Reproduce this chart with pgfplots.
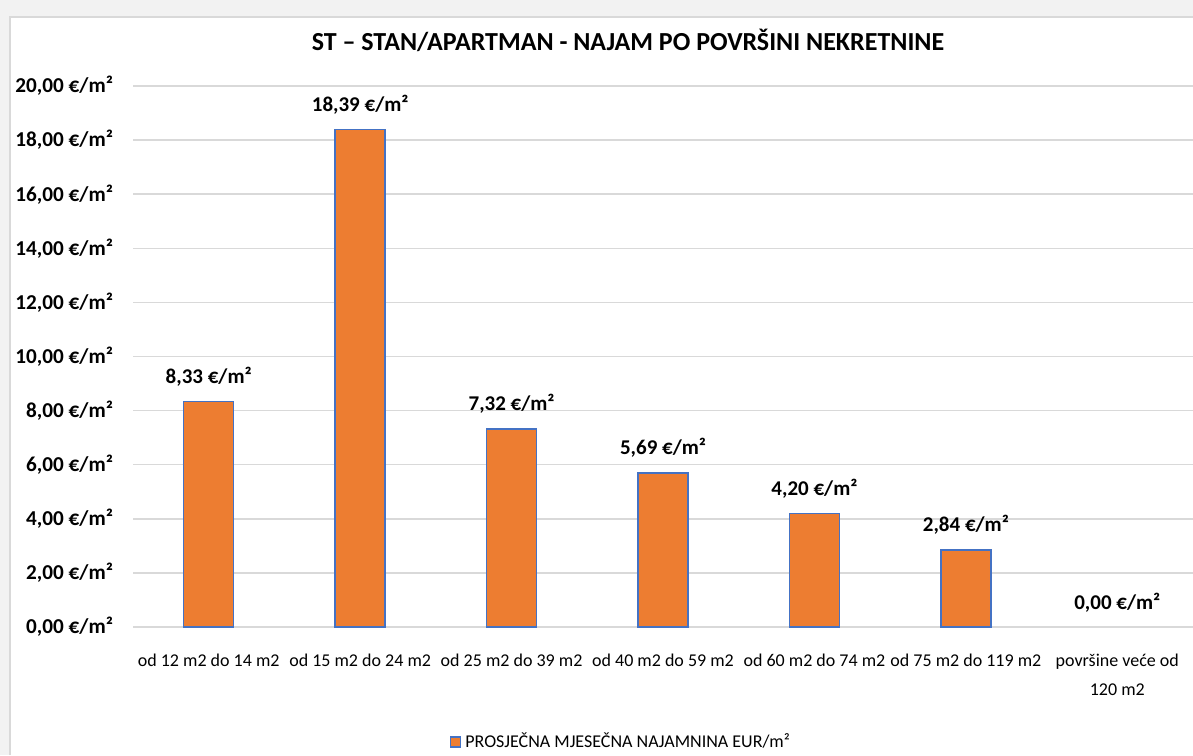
\documentclass[border=0pt]{standalone}
\usepackage{fontspec}
\setmainfont{Carlito}
\usepackage{pgfplots}
\pgfplotsset{compat=1.18}
\definecolor{barorange}{HTML}{ED7D31}
\definecolor{barblue}{HTML}{4472C4}
\definecolor{gridgray}{HTML}{D9D9D9}
\begin{document}
\begin{tikzpicture}
\fill[black!5] (0pt,0pt) rectangle (596.5pt,-377.5pt);
\useasboundingbox (0pt,0pt) rectangle (596.5pt,-377.5pt);
\fill[white] (5pt,-8.5pt) rectangle (596.5pt,-377.5pt);
\draw[black!15, line width=0.8pt] (5pt,-377.5pt) -- (5pt,-8.5pt) -- (596.5pt,-8.5pt);
\begin{axis}[
  at={(66.5pt,-313.5pt)}, anchor=south west,
  scale only axis, width=530pt, height=270.5pt,
  ymin=0, ymax=20, ytick={0,2,...,20},
  xmin=-0.5, xmax=6.5, xtick={0,...,6},
  xticklabels={od 12 m2 do 14 m2, od 15 m2 do 24 m2, od 25 m2 do 39 m2, od 40 m2 do 59 m2, od 60 m2 do 74 m2, od 75 m2 do 119 m2, {površine veće od\\120 m2}},
  xticklabel style={font=\fontsize{9}{14.5}\selectfont, align=center, yshift=-10pt},
  ymajorgrids, grid style={gridgray, line width=0.75pt},
  major tick length=0pt, axis line style={draw=none},
  /pgf/number format/assume math mode=true,
  yticklabel={\pgfmathprintnumber[fixed,fixed zerofill,precision=2,use comma]{\tick} €/m²},
  yticklabel style={font=\bfseries\fontsize{10.6}{12}\selectfont, xshift=-6.5pt},
  ybar, bar width=25pt, bar shift=0pt,
  nodes near coords={\pgfmathprintnumber[fixed,fixed zerofill,precision=2,use comma]{\pgfplotspointmeta} €/m²},
  nodes near coords style={font=\bfseries\fontsize{10.5}{12}\selectfont, yshift=4pt},
  title={ST – STAN/APARTMAN - NAJAM PO POVRŠINI NEKRETNINE},
  title style={font=\bfseries\fontsize{13}{15}\selectfont, at={(0.5,1)}, anchor=center, yshift=17pt, xshift=-17.5pt},
  legend style={at={(0.5,0)}, anchor=center, yshift=-57.5pt, xshift=-20.5pt, draw=none, fill=none, font=\fontsize{9}{11}\selectfont, inner sep=0pt},
  legend image code/.code={\draw[#1, line width=0.6pt] (0pt,-2.5pt) rectangle (5pt,2.5pt);},
]
\addplot[fill=barorange, draw=barblue, line width=0.75pt] coordinates {
  (0,8.33) (1,18.39) (2,7.32) (3,5.69) (4,4.20) (5,2.84)
};
\addlegendentry{PROSJEČNA MJESEČNA NAJAMNINA EUR/m²}
\addplot[draw=none, fill=none, forget plot] coordinates {(6,0.00)};
\end{axis}
\end{tikzpicture}
\end{document}
